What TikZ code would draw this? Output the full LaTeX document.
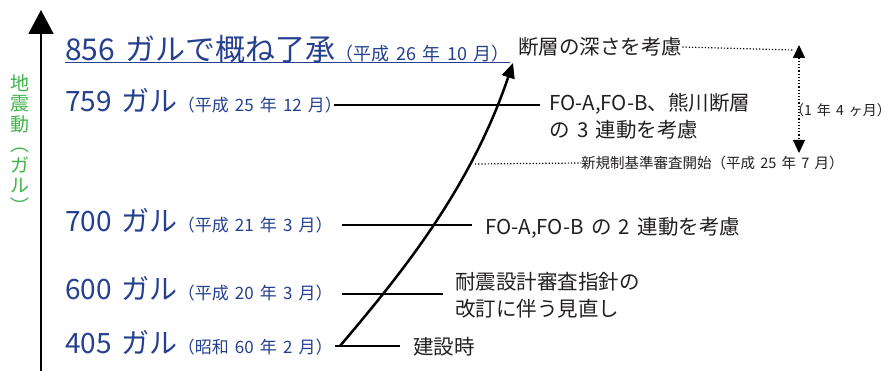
\documentclass[tikz,border=0pt]{standalone}
\usepackage{fontspec}
\setmainfont[WordSpace=1.6]{Noto Sans CJK JP}
\usetikzlibrary{arrows.meta}
\definecolor{galblue}{RGB}{37,64,143}
\definecolor{axisgreen}{RGB}{64,179,74}
\definecolor{notegray}{RGB}{35,31,32}
\newcommand\topgal{\fontsize{30}{32}\selectfont}
\newcommand\galtxt{\fontsize{28}{29}\selectfont}
\newcommand\topdate{\fontsize{18}{19}\selectfont}
\newcommand\datetxt{\fontsize{17}{17}\selectfont}
\newcommand\notetxt{\fontsize{20.5}{27}\selectfont}
\tikzset{
  galrow/.style={anchor=base west,inner sep=0pt,text=galblue},
  notebox/.style={anchor=west,inner sep=0pt,text=notegray,align=left,font=\notetxt},
  stepline/.style={line width=1.8pt,black},
  dotline/.style={line width=1.2pt,dotted}
}

\begin{document}
\begin{tikzpicture}[x=1pt,y=-1pt,join=round] % seismic level history
  \useasboundingbox (0,0) rectangle (893,371);
  % axis
  \draw[line width=2pt,-{Triangle[width=25pt,length=24pt]}] (41,371) -- (41,10);
  \node[text=axisgreen,inner sep=0pt,align=center,font=\fontsize{19}{20.5}\selectfont] (ylab) at (20,144)
    {地\\震\\動\\︵\\ガ\\ル\\︶};
  % levels
  \node[galrow] (r856) at (65,61) {\topgal 856 ガルで概ね了承\topdate （平成 26 年 10 月）};
  \node[galrow] (r759) at (65,112) {\galtxt 759 ガル\datetxt （平成 25 年 12 月）};
  \node[galrow] (r700) at (65,232) {\galtxt 700 ガル\datetxt （平成 21 年 3 月）};
  \node[galrow] (r600) at (65,299) {\galtxt 600 ガル\datetxt （平成 20 年 3 月）};
  \node[galrow] (r405) at (65,353) {\galtxt 405 ガル\datetxt （昭和 60 年 2 月）};
  \draw[galblue,line width=1.4pt] ([yshift=-1.5pt]r856.base west) -- ([yshift=-1.5pt]r856.base east);
  % notes
  \node[notebox] (n856) at (518,47) {断層の深さを考慮};
  \node[notebox] (n759) at (549,116) {FO-A,FO-B、熊川断層\\の 3 連動を考慮};
  \node[notebox] (n700) at (485,228) {FO-A,FO-B の 2 連動を考慮};
  \node[notebox] (n600) at (455,295) {耐震設計審査指針の\\改訂に伴う見直し};
  \node[notebox] (n405) at (413,347) {建設時};
  \node[notebox,font=\fontsize{14.5}{16}\selectfont] (kisei) at (581,163) {新規制基準審査開始（平成 25 年 7 月）};
  \node[notebox,font=\fontsize{14}{16}\selectfont] (span) at (790,110) {（1 年 4 ヶ月）\kern-.45em};
  % connectors
  \draw[stepline] ([xshift=-8pt,yshift=7pt]r759.base east) -- ([xshift=-9pt,yshift=7pt]r759.base east -| n759.west);
  \draw[stepline] ([xshift=9pt,yshift=7pt]r700.base east) -- ([xshift=-13pt,yshift=7pt]r700.base east -| n700.west);
  \draw[stepline] ([xshift=9pt,yshift=5pt]r600.base east) -- ([xshift=-12pt,yshift=5pt]r600.base east -| n600.west);
  \draw[stepline] ([xshift=2pt,yshift=7pt]r405.base east) -- ([xshift=-13pt,yshift=7pt]r405.base east -| n405.west);
  % rise
  \coordinate (start) at (340,346);
  \coordinate (tip) at (513,63);
  \coordinate (rule) at (475,164);
  \draw[line width=2.5pt,-{Triangle[width=13pt,length=15pt]}] (start) .. controls (400,275) and (470,190) .. (tip);
  \draw[dotline] (rule) -- (kisei.west);
  \coordinate (top) at (799,50);
  \coordinate (bot) at (799,153);
  \draw[dotline] (n856.east) -- ([xshift=-6pt]top);
  \draw[dotline,{Triangle[width=12pt,length=13pt]}-{Triangle[width=12pt,length=13pt]}] ([yshift=5pt]top) -- (bot);
\end{tikzpicture}
\end{document}
